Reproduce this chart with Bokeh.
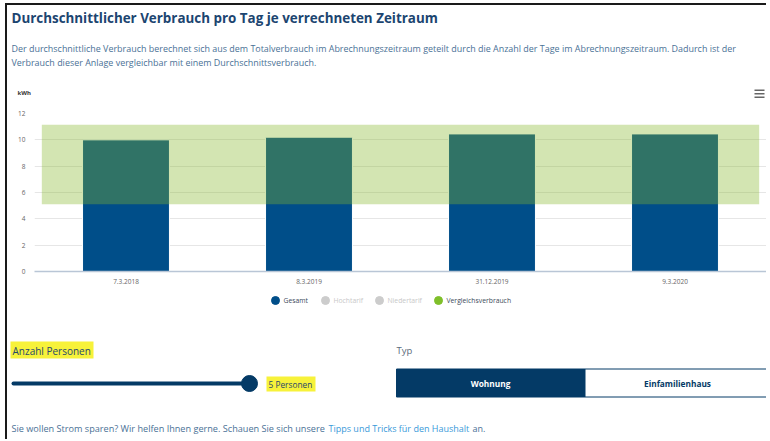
from bokeh.plotting import figure
from bokeh.models import Range1d, FixedTicker
from bokeh.core.properties import value
from bokeh.embed import file_html
from bokeh.resources import INLINE

# ---------------- data ----------------
dates = ["7.3.2018", "8.3.2019", "31.12.2019", "9.3.2020"]
positions = [0, 1, 2, 3]
gesamt = [10.0, 10.2, 10.45, 10.45]
vergleich_x = [-0.46, 3.46]
vergleich_low = [5.1, 5.1]
vergleich_high = [11.15, 11.15]
y_ticks = [0, 2, 4, 6, 8, 10, 12]
legend_labels = ["Gesamt", "Hochtarif", "Niedertarif", "Vergleichsverbrauch"]
legend_active = [True, False, False, True]
personen = 5
typ_options = ["Wohnung", "Einfamilienhaus"]

FNAME = "Open Sans"
FONT = value(FNAME)
BLUE = "#004e89"
GREEN = "#86b82a"
NAVY = "#043a66"
TXT = "#4a7196"
BW = 2
BORDER = f"{BW}px solid #1a1a1a"

X0, X1 = 7, 768  # page content in reference pixel coords


def panel(y0, y1, top=False):
    styles = {"border-left": BORDER}
    if top:
        styles["border-top"] = BORDER
    f = figure(width=X1 - X0, height=y1 - y0 + (BW if top else 0),
               output_backend="svg", toolbar_location=None,
               x_range=Range1d(X0, X1), y_range=Range1d(y1, y0),
               x_axis_type=None, y_axis_type=None, min_border=0,
               margin=(3 if top else 0, 0, 0, 5), styles=styles)
    f.outline_line_color = None
    f.grid.visible = False
    return f


def txt(f, s, x, y, size, color, bold=False, align="left"):
    f.text(x=[x], y=[y], text=[s], text_font=FONT, text_font_size=size,
           text_color=color, text_baseline="middle", text_align=align,
           text_font_style="bold" if bold else "normal")


# ---------------- header ----------------
head = panel(5, 105, top=True)
txt(head, "Durchschnittlicher Verbrauch pro Tag je verrechneten Zeitraum", 11, 17, "13.4px", "#1c4570", bold=True)
txt(head, "Der durchschnittliche Verbrauch berechnet sich aus dem Totalverbrauch im Abrechnungszeitraum geteilt durch die Anzahl der Tage im Abrechnungszeitraum. Dadurch ist der", 11, 47, "8.95px", TXT)
txt(head, "Verbrauch dieser Anlage vergleichbar mit einem Durchschnittsverbrauch.", 11, 61, "8.95px", TXT)
txt(head, "kWh", 17, 91, "6px", "#333333", bold=True)
head.segment(x0=[754, 754, 754], y0=[88, 91.5, 95], x1=[764, 764, 764], y1=[88, 91.5, 95],
             line_color="#666666", line_width=1.5)

# ---------------- chart ----------------
CH_TOP, CH_BOT = 105, 291
p = figure(width=X1 - X0, height=CH_BOT - CH_TOP, output_backend="svg", toolbar_location=None,
           x_range=Range1d(-0.5, 3.5), y_range=Range1d(0, 12),
           min_border_left=34 - X0, min_border_right=X1 - 766,
           min_border_top=113 - CH_TOP, min_border_bottom=CH_BOT - 271,
           margin=(0, 0, 0, 5), styles={"border-left": BORDER})
p.outline_line_color = None
p.xgrid.visible = False
p.ygrid.ticker = FixedTicker(ticks=y_ticks)
p.ygrid.grid_line_color = "#e6e6e6"

p.yaxis.ticker = FixedTicker(ticks=y_ticks)
p.yaxis.axis_line_color = None
p.yaxis.major_tick_line_color = None
p.yaxis.minor_tick_line_color = None
p.yaxis.major_tick_out = 0
p.yaxis.major_tick_in = 0
p.yaxis.major_label_standoff = 9
p.yaxis.major_label_text_font = FNAME
p.yaxis.major_label_text_font_size = "6.5px"
p.yaxis.major_label_text_color = "#666666"

p.xaxis.ticker = FixedTicker(ticks=positions)
p.xaxis.major_label_overrides = {i: d for i, d in zip(positions, dates)}
p.xaxis.axis_line_color = "#b9c6d6"
p.xaxis.axis_line_width = 1.5
p.xaxis.major_tick_line_color = None
p.xaxis.minor_tick_line_color = None
p.xaxis.major_tick_out = 0
p.xaxis.major_tick_in = 0
p.xaxis.major_label_standoff = 7
p.xaxis.major_label_text_font = FNAME
p.xaxis.major_label_text_font_size = "6.5px"
p.xaxis.major_label_text_color = "#666666"

p.vbar(x=positions, top=gesamt, width=0.475, fill_color=BLUE,
       line_color="white", line_width=1)
p.varea(x=vergleich_x, y1=vergleich_low, y2=vergleich_high,
        fill_color=GREEN, fill_alpha=0.36)

# ---------------- footer ----------------
foot = panel(291, 439)
leg_colors = [BLUE, "#cccccc", "#cccccc", "#7fbf2a"]
leg_text_colors = ["#3c4a5a" if a else "#c8c8c8" for a in legend_active]
leg_cx = [275, 325, 379, 438]
foot.scatter(x=leg_cx, y=[300] * 4, size=8, fill_color=leg_colors, line_color=leg_colors)
foot.text(x=[c + 8 for c in leg_cx], y=[300] * 4, text=legend_labels, text_font=FONT,
          text_font_size="6.8px", text_color=leg_text_colors, text_baseline="middle")

YEL = "#f7f23a"
foot.quad(left=[10, 266], right=[93, 315], top=[341, 376], bottom=[358, 391],
          fill_color=YEL, line_color=None)
txt(foot, "Anzahl Personen", 12, 350, "10px", "#28476b")
foot.line(x=[13, 247], y=[383, 383], line_width=4, line_cap="round", line_color=NAVY)
foot.scatter(x=[249], y=[383], size=16, fill_color=NAVY, line_color=NAVY)
txt(foot, f"{personen} Personen", 268, 383.5, "8.3px", "#28476b")

txt(foot, "Typ", 396, 350, "9.5px", "#5b6b7b")
foot.quad(left=[396, 584.5], right=[584.5, 767.5], top=[368.5, 368.5], bottom=[396.5, 396.5],
          fill_color=[NAVY, "white"], line_color=NAVY, line_width=1)
txt(foot, typ_options[0], 490, 383, "8.3px", "white", bold=True, align="center")
txt(foot, typ_options[1], 677, 383, "8.3px", NAVY, bold=True, align="center")

txt(foot, "Sie wollen Strom sparen? Wir helfen Ihnen gerne. Schauen Sie sich unsere", 11, 428, "9.15px", TXT)
txt(foot, "Tipps und Tricks für den Haushalt", 328, 428, "9px", "#3a9ad9")
txt(foot, "an.", 472, 428, "9px", TXT)

open("out.html", "w").write(file_html([head, p, foot], INLINE))
